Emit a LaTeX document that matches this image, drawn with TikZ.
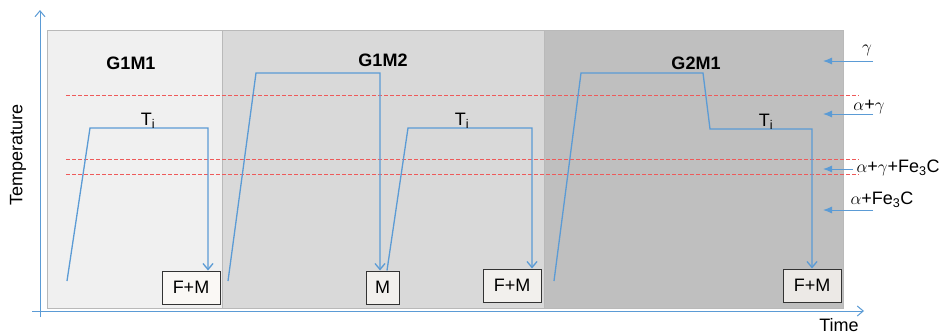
\documentclass[tikz,border=0pt]{standalone}
\usepackage{fontspec}
\setmainfont{Liberation Sans}
\usetikzlibrary{arrows.meta}
\definecolor{heatblue}{HTML}{5B9BD5}
\definecolor{phasered}{HTML}{EE5A5A}
\definecolor{panelA}{HTML}{F0F0F0}
\definecolor{panelB}{HTML}{D9D9D9}
\definecolor{panelC}{HTML}{BFBFBF}
\begin{document}
\begin{tikzpicture}[x=1pt,y=-1pt,font=\fontsize{18}{21}\selectfont,
        >={Straight Barb[length=6pt,width=10pt]},
        panel/.style = {draw=gray!55, line width=1pt},
        phase/.style = {draw=phasered, line width=1pt, dash pattern=on 4pt off 2pt},
        cycle/.style = {draw=heatblue, line width=1.3pt},
        axis/.style = {draw=heatblue, line width=1pt, ->},
        hint/.style = {draw=heatblue, line width=1pt, -{Latex[length=9pt,width=7pt]}},
        result/.style = {draw=black!80, line width=1pt, minimum height=33pt, inner sep=2pt},
        tag/.style = {font=\fontsize{18}{21}\selectfont\bfseries}] 
        \useasboundingbox (0,0) rectangle (940,335);
        % panels
        \fill[panelA] (47,30) rectangle (222,308);
        \fill[panelB] (222,30) rectangle (544,308);
        \fill[panelC] (544,30) rectangle (843,308);
        \draw[panel] (47,30) rectangle (222,308);
        \draw[panel] (222,30) rectangle (544,308);
        \draw[panel] (544,30) rectangle (843,308);
        \node[tag] (g1m1) at (131,63) {G1M1};
        \node[tag] (g1m2) at (383,60) {G1M2};
        \node[tag] (g2m1) at (696,63) {G2M1};
        % phase limits
        \draw[phase] (66,95.5) -- (859,95.5);
        \draw[phase] (66,159.5) -- (859,159.5);
        \draw[phase] (66,174.5) -- (859,174.5);
        % axes
        \coordinate (ybot) at (40,317);
        \coordinate (ytop) at (40,10);
        \coordinate (xleft) at (32,311);
        \coordinate (xright) at (864,311);
        \draw[axis] (ybot) -- (ytop);
        \draw[axis] (xleft) -- (xright);
        \node[rotate=90] (temp) at (18,155) {Temperature};
        \node (time) at (839,325) {Time};
        % resulting microstructures
        \node[result, fill=panelA!80!brown!20, minimum width=58pt] (fm1) at (191,287.5) {F+M};
        \node[result, fill=panelB!85!brown!30, minimum width=33pt] (m) at (382.5,287.5) {M};
        \node[result, fill=panelB!85!brown!30, minimum width=58pt] (fm2) at (512,285.5) {F+M};
        \node[result, fill=panelC!85!brown!30, minimum width=58pt] (fm3) at (812,285.5) {F+M};
        % heat treatment cycles
        \coordinate (a1) at (67,281);
        \coordinate (a2) at (90,128);
        \coordinate (a3) at (208,128);
        \draw[cycle, ->] (a1) -- (a2) -- (a3) -- (a3 |- fm1.north);
        \coordinate (b1) at (228,281);
        \coordinate (b2) at (256,73);
        \coordinate (b3) at (380,73);
        \draw[cycle, ->] (b1) -- (b2) -- (b3) -- (b3 |- m.north);
        \coordinate (c2) at (408,128);
        \coordinate (c3) at (532,128);
        \draw[cycle, ->] ([xshift=4.5pt]m.north) -- (c2) -- (c3) -- (c3 |- fm2.north);
        \coordinate (d1) at (554,281);
        \coordinate (d2) at (581,73);
        \coordinate (d3) at (703,73);
        \coordinate (d4) at (710,129);
        \coordinate (d5) at (812,129);
        \draw[cycle, ->] (d1) -- (d2) -- (d3) -- (d4) -- (d5) -- (fm3.north);
        \node[anchor=base] (ti1) at (148,125) {T\textsubscript{i}};
        \node[anchor=base] (ti2) at (462,125) {T\textsubscript{i}};
        \node[anchor=base] (ti3) at (766,126) {T\textsubscript{i}};
        % phase fields
        \node (gam) at (867,50) {$\gamma$};
        \node (ag) at (869,107) {$\alpha$+$\gamma$};
        \node[anchor=west] (agc) at (853,168) {$\alpha$+$\gamma$+Fe\textsubscript{3}C};
        \node[anchor=west] (ac) at (847,200) {$\alpha$+Fe\textsubscript{3}C};
        \coordinate (p1) at (873,61);
        \coordinate (q1) at (823,61);
        \coordinate (p2) at (873,114);
        \coordinate (q2) at (823,114);
        \coordinate (q3) at (823,169);
        \coordinate (p4) at (873,210);
        \coordinate (q4) at (823,210);
        \draw[hint] (p1) -- (q1);
        \draw[hint] (p2) -- (q2);
        \draw[hint] (agc.west |- q3) -- (q3);
        \draw[hint] (p4) -- (q4);
\end{tikzpicture}
\end{document}
